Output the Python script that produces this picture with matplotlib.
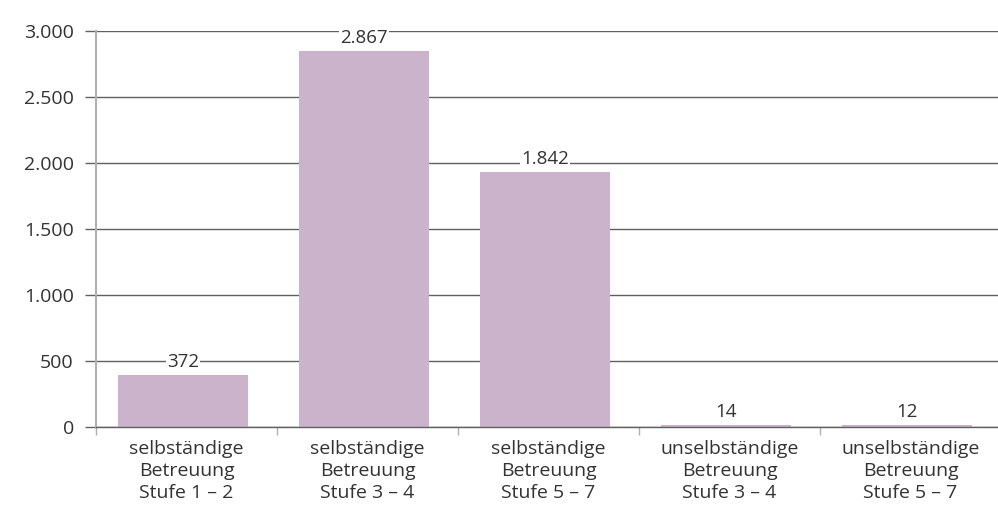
import matplotlib.pyplot as plt
import numpy as np

plt.rcParams['font.family'] = ['Open Sans', 'DejaVu Sans']

categories = [
    "selbständige\nBetreuung\nStufe 1 – 2",
    "selbständige\nBetreuung\nStufe 3 – 4",
    "selbständige\nBetreuung\nStufe 5 – 7",
    "unselbständige\nBetreuung\nStufe 3 – 4",
    "unselbständige\nBetreuung\nStufe 5 – 7",
]
# bar heights as drawn in the picture
heights = [394, 2848, 1932, 14, 12]
# printed value labels
value_labels = ["372", "2.867", "1.842", "14", "12"]
yticks = [0, 500, 1000, 1500, 2000, 2500, 3000]
ytick_labels = ["0", "500", "1.000", "1.500", "2.000", "2.500", "3.000"]

W, H = 998, 509
fig = plt.figure(figsize=(W / 100, H / 100), dpi=100)
left, right, top, bottom = 96, 1001, 31, 427
ax = fig.add_axes([left / W, 1 - bottom / H, (right - left) / W, (bottom - top) / H])

x = np.arange(len(categories))
bar_color = "#cbb3cb"
ax.bar(x - 0.02, heights, width=0.72, color=bar_color, zorder=2)

ax.set_xlim(-0.5, len(categories) - 0.5)
ax.set_ylim(0, 3000)
ax.set_yticks(yticks)
ax.set_yticklabels(ytick_labels, fontsize=14, color="#333333")
ax.yaxis.grid(True, color="#606060", linewidth=1.0, zorder=1)
ax.set_axisbelow(True)

ax.set_xticks(np.arange(len(categories) + 1) - 0.5, minor=False)
ax.set_xticklabels([])
ax.tick_params(axis="x", length=6, color="#b0b0b0", width=1)
ax.set_xticks(x, minor=True)
ax.set_xticklabels(categories, minor=True, fontsize=14, color="#333333",
                   linespacing=1.3)
ax.tick_params(axis="x", which="minor", length=0, pad=9)
ax.tick_params(axis="y", length=8, color="#606060", width=1, pad=8)

for s in ["top", "right"]:
    ax.spines[s].set_visible(False)
ax.spines["left"].set_color("#b0b0b0")
ax.spines["left"].set_linewidth(1.5)
ax.spines["bottom"].set_color("#606060")
ax.spines["bottom"].set_linewidth(1.0)

for xi, h, lab in zip(x, heights, value_labels):
    ax.annotate(lab, (xi - 0.02, h), xytext=(0, 3), textcoords="offset points",
                ha="center", va="bottom", fontsize=13.5, color="#333333",
                bbox=dict(boxstyle="square,pad=0.05", fc="white", ec="none"),
                zorder=3)

fig.savefig("out.png", dpi=100)
